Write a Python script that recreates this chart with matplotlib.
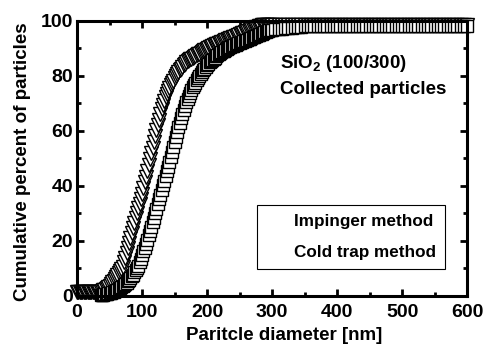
import numpy as np
import matplotlib
matplotlib.use('Agg')
from matplotlib import pyplot as plt
from matplotlib.ticker import MultipleLocator

plt.rcParams['font.family'] = ['Liberation Sans', 'DejaVu Sans']
plt.rcParams['font.weight'] = 'bold'
plt.rcParams['mathtext.fontset'] = 'custom'
plt.rcParams['mathtext.rm'] = 'Liberation Sans:bold'
plt.rcParams['mathtext.bf'] = 'Liberation Sans:bold'

# particle diameter grid [nm]: 2 nm steps up to 300, 5 nm after
diameter = np.concatenate([np.arange(0, 302, 2), np.arange(305, 605, 5)])

# cold trap method, cumulative percent
cold_trap = [
	1.3, 1.3, 1.3, 1.3, 1.3, 1.3, 1.3, 1.3, 1.3, 1.3,
	1.3, 1.3, 1.3, 1.3, 1.3, 1.3, 1.4, 1.5, 1.6, 1.8,
	2.0, 2.3, 2.6, 3.0, 3.4, 3.8, 4.3, 4.9, 5.6, 6.3,
	7.0, 7.6, 8.3, 9.0, 9.8, 10.6, 12.2, 13.9, 15.6, 17.4,
	19.2, 21.0, 22.8, 24.6, 26.4, 28.2, 30.0, 31.8, 33.6, 35.4,
	37.2, 39.2, 41.3, 43.4, 45.5, 47.6, 49.7, 51.8, 53.9, 56.0,
	58.1, 60.2, 62.2, 64.1, 66.0, 67.8, 69.5, 71.0, 72.4, 73.6,
	74.7, 75.7, 76.6, 77.5, 78.3, 79.1, 79.9, 80.6, 81.3, 82.0,
	82.7, 83.3, 83.9, 84.4, 84.9, 85.3, 85.7, 86.0, 86.3, 86.6,
	86.9, 87.2, 87.5, 87.8, 88.1, 88.4, 88.7, 89.0, 89.3, 89.6,
	89.9, 90.2, 90.5, 90.7, 90.9, 91.1, 91.3, 91.5, 91.7, 91.9,
	92.1, 92.3, 92.5, 92.7, 92.9, 93.1, 93.3, 93.5, 93.7, 93.9,
	94.1, 94.3, 94.5, 94.7, 94.9, 95.1, 95.3, 95.5, 95.7, 95.9,
	96.1, 96.3, 96.5, 96.7, 96.9, 97.1, 97.3, 97.5, 97.7, 97.9,
	98.1, 98.3, 98.4, 98.5, 98.5, 98.5, 98.5, 98.5, 98.5, 98.5,
	98.5,
	98.5, 98.5, 98.5, 98.5, 98.5, 98.5, 98.5, 98.5, 98.5, 98.5,
	98.5, 98.5, 98.5, 98.5, 98.5, 98.5, 98.5, 98.5, 98.5, 98.5,
	98.5, 98.5, 98.5, 98.5, 98.5, 98.5, 98.5, 98.5, 98.5, 98.5,
	98.5, 98.5, 98.5, 98.5, 98.5, 98.5, 98.5, 98.5, 98.5, 98.5,
	98.5, 98.5, 98.5, 98.5, 98.5, 98.5, 98.5, 98.5, 98.5, 98.5,
	98.5, 98.5, 98.5, 98.5, 98.5, 98.5, 98.5, 98.5, 98.5, 98.5,
]

# impinger method, cumulative percent (starts at 36 nm)
impinger = [
	0.3, 0.4,
	0.5, 0.6, 0.7, 0.8, 0.9, 1.0, 1.2, 1.4, 1.6, 1.8,
	2.0, 2.3, 2.6, 2.9, 3.2, 3.5, 3.9, 4.3, 4.8, 5.3,
	5.8, 6.4, 7.1, 7.8, 8.6, 9.4, 10.2, 11.0, 12.2, 13.5,
	14.8, 16.2, 17.6, 19.0, 20.5, 22.0, 23.6, 25.2, 26.8, 28.4,
	30.0, 31.7, 33.4, 35.1, 36.8, 38.5, 40.2, 41.9, 43.6, 45.3,
	47.0, 48.8, 50.6, 52.4, 54.2, 56.0, 57.8, 59.6, 61.3, 63.0,
	64.6, 66.2, 67.7, 69.1, 70.4, 71.6, 72.7, 73.8, 74.8, 75.8,
	76.7, 77.6, 78.4, 79.2, 80.0, 80.7, 81.4, 82.1, 82.7, 83.3,
	83.9, 84.4, 84.9, 85.4, 85.8, 86.2, 86.7, 87.1, 87.5, 87.9,
	88.3, 88.6, 88.9, 89.2, 89.5, 89.8, 90.1, 90.4, 90.6, 90.8,
	91.0, 91.2, 91.4, 91.6, 91.8, 92.0, 92.2, 92.4, 92.6, 92.8,
	93.0, 93.2, 93.4, 93.6, 93.8, 94.0, 94.2, 94.4, 94.6, 94.8,
	95.0, 95.2, 95.4, 95.6, 95.8, 96.0, 96.2, 96.4, 96.6, 96.7,
	96.8,
	96.9, 97.1, 97.2, 97.4, 97.5, 97.6, 97.7, 97.8, 97.9, 98.0,
	98.0, 98.0, 98.0, 98.0, 98.0, 98.0, 98.0, 98.0, 98.0, 98.0,
	98.0, 98.0, 98.0, 98.0, 98.0, 98.0, 98.0, 98.0, 98.0, 98.0,
	98.0, 98.0, 98.0, 98.0, 98.0, 98.0, 98.0, 98.0, 98.0, 98.0,
	98.0, 98.0, 98.0, 98.0, 98.0, 98.0, 98.0, 98.0, 98.0, 98.0,
	98.0, 98.0, 98.0, 98.0, 98.0, 98.0, 98.0, 98.0, 98.0, 98.0,
]
diameter_imp = diameter[18:]

fig = plt.figure(dpi = 100, figsize = (4.85, 3.49))
ax = fig.add_axes([0.159, 0.152, 0.804, 0.788])

l_cold, = ax.plot(diameter, cold_trap, ls = 'none', marker = 'v', ms = 9.5,
	mfc = 'white', mec = 'black', mew = 1.0, clip_on = False)
l_imp, = ax.plot(diameter_imp, impinger, ls = 'none', marker = 's', ms = 8.5,
	mfc = 'white', mec = 'black', mew = 1.0, clip_on = False)

ax.set_xlim(0, 600)
ax.set_ylim(0, 100)
ax.xaxis.set_major_locator(MultipleLocator(100))
ax.xaxis.set_minor_locator(MultipleLocator(50))
ax.yaxis.set_major_locator(MultipleLocator(20))
ax.yaxis.set_minor_locator(MultipleLocator(10))
ax.tick_params(which = 'both', direction = 'in', top = True, right = True, width = 2)
ax.tick_params(which = 'major', length = 5, labelsize = 14)
ax.tick_params(axis = 'x', which = 'major', pad = 6)
ax.tick_params(axis = 'y', which = 'major', pad = 3)
ax.tick_params(which = 'minor', length = 3)
for s in ax.spines.values():
	s.set_linewidth(2.2)
	s.set_zorder(5)

ax.set_xlabel('Paritcle diameter [nm]', fontsize = 13.5, fontweight = 'bold')
ax.set_ylabel('Cumulative percent of particles', fontsize = 13.5, fontweight = 'bold')
ax.xaxis.set_label_coords(0.531, -0.113)
ax.yaxis.set_label_coords(-0.117, 0.49)

ax.text(0.52, 0.847, r'SiO$_\mathrm{2}$ (100/300)', transform = ax.transAxes,
	fontsize = 13.5, fontweight = 'bold', va = 'center')
ax.text(0.52, 0.749, 'Collected particles', transform = ax.transAxes,
	fontsize = 13.5, fontweight = 'bold', va = 'center')

leg = ax.legend([l_imp, l_cold], ['Impinger method', 'Cold trap method'],
	loc = 'lower right', bbox_to_anchor = (0.944, 0.098), prop = {'size': 12.3, 'weight': 'bold'},
	fancybox = False, edgecolor = 'black', framealpha = 1, borderpad = 0.55,
	handlelength = 1.1, handletextpad = 0.5, labelspacing = 0.9, borderaxespad = 0)
leg.get_frame().set_linewidth(0.8)
for h in leg.legend_handles:
	h.set_visible(False)

plt.savefig('out.png', dpi = 100)
